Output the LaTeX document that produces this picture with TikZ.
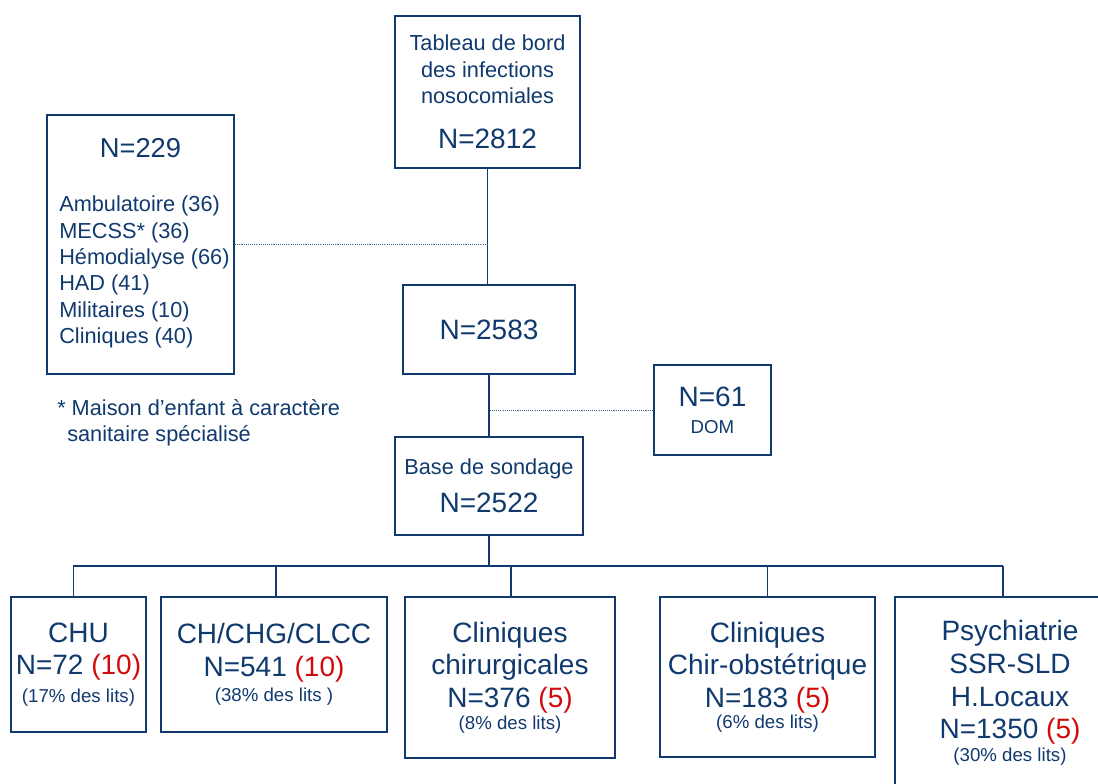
\documentclass[tikz,border=0pt]{standalone}
\usepackage{fontspec}
\setmainfont{Liberation Sans}
\definecolor{bleu}{RGB}{16,58,110}
\definecolor{rouge}{RGB}{210,10,10}
\newcommand{\grand}{\fontsize{21}{24.5}\selectfont}
\newcommand{\moyen}{\fontsize{16.3}{19.75}\selectfont}
\newcommand{\petit}{\fontsize{14}{16}\selectfont}
\newcommand{\rg}[1]{\textcolor{rouge}{#1}}

\begin{document}
\begin{tikzpicture}[x=0.75pt,y=-0.75pt,
    boite/.style 2 args={draw=bleu, line width=1.6pt, text=bleu, align=center, inner sep=0pt,
      minimum width=#1*0.75pt, minimum height=#2*0.75pt},
    texte/.style={text=bleu, inner sep=0pt},
    lien/.style={draw=bleu, line width=0.8pt},
    pointille/.style={draw=bleu!80, line width=0.6pt, dash pattern=on 0.8pt off 0.8pt}]
    \useasboundingbox (0,0) rectangle (1098,784);
    \clip (0,0) rectangle (1098,784);

    \node[boite={185}{152}, font=\moyen] (tableau) at (487.5,92)
        {Tableau de bord\\des infections\\nosocomiales\\[14pt]\grand N=2812};
    \node[boite={187}{259}] (hors) at (140.5,244.5) {};
    \node[texte, font=\fontsize{20.5}{24}\selectfont] (nhors) at (140.5,148) {N=229};
    \node[texte, font=\moyen, align=left, anchor=west] (liste) at (59,272)
        {Ambulatoire (36)\\MECSS* (36)\\Hémodialyse (66)\\HAD (41)\\Militaires (10)\\Cliniques (40)};
    \node[texte, font=\moyen, align=left, anchor=west] (note) at (57,423)
        {* Maison d’enfant à caractère\\\hspace*{7.5pt}sanitaire spécialisé};
    \node[boite={172}{89}, font=\grand] (retenus) at (489,329.5) {N=2583};
    \node[boite={117}{90}, font=\grand] (dom) at (712.5,410) {N=61\\[-4.5pt]\petit DOM};
    \node[boite={188}{98}, font=\moyen] (base) at (489,486) {Base de sondage\\[8.75pt]\grand N=2522};

    \node[boite={135}{135}, font=\grand] (chu) at (78.5,664.5)
        {CHU\\N=72 \rg{(10)}\\[-3.5pt]\petit (17\% des lits)};
    \node[boite={226}{135}, font=\grand] (ch) at (274,664.5)
        {CH/CHG/CLCC\\N=541 \rg{(10)}\\[-5.75pt]\petit (38\% des lits )};
    \node[boite={210}{161}, font=\grand] (chir) at (510,677.5)
        {Cliniques\\chirurgicales\\N=376 \rg{(5)}\\[-8pt]\petit (8\% des lits)};
    \node[boite={215}{160}, font=\grand] (obst) at (767.5,677)
        {Cliniques\\Chir-obstétrique\\N=183 \rg{(5)}\\[-8.75pt]\petit (6\% des lits)};
    \node[boite={230}{192}, font=\grand] (psy) at (1010,693)
        {Psychiatrie\\SSR-SLD\\H.Locaux\\N=1350 \rg{(5)}\\[-7.25pt]\petit (30\% des lits)};

    \draw[lien] (tableau.south) -- (tableau.south |- retenus.north);
    \draw[pointille] (hors.east) -- (hors.east -| tableau.south);
    \draw[lien] (retenus.south) -- (base.north);
    \draw[pointille] (dom.west) -- (dom.west -| retenus.south);
    \coordinate (bus) at (489,566);
    \draw[bleu, line width=1.8pt] (base.south) -- (bus);
    \draw[bleu, line width=1.1pt] ([xshift=-4pt]chu.north |- bus) -- ([xshift=-5.25pt]psy.north |- bus);
    \foreach \n/\d in {chu/-4,ch/1.5,chir/0.75,obst/0,psy/-5.25}
        \draw[lien] ([xshift=\d pt]\n.north) -- ([xshift=\d pt]\n.north |- bus);
\end{tikzpicture}
\end{document}
